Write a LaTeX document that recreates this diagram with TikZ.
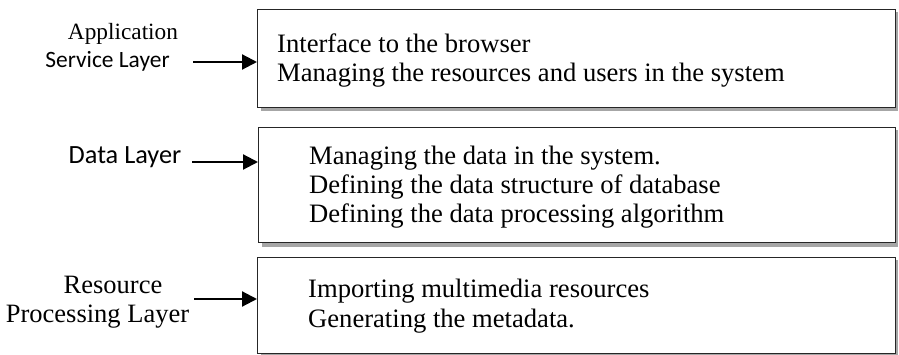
\documentclass[tikz,border=0pt]{standalone}
\usepackage{fontspec}
\setmainfont{Liberation Serif}
\newfontfamily\calib{Carlito}
\usetikzlibrary{arrows.meta}
\begin{document}
\begin{tikzpicture}[x=1pt,y=-1pt,
  layerbox/.style={draw=black!85, line width=1.1pt, fill=white, anchor=north west, inner sep=0pt, minimum width=638pt},
  shadowfill/.style={fill=black!35},
  boxtext/.style={anchor=base west, inner sep=0pt, font=\fontsize{26.6}{30}\selectfont},
  serlbl/.style={anchor=base, inner sep=0pt, font=\fontsize{26.5}{30}\selectfont},
  sanslbl/.style={anchor=base, inner sep=0pt, font=\calib\fontsize{23.4}{28}\selectfont},
  arr/.style={line width=2.2pt, -{Triangle[length=15pt,width=15pt]}}]
\useasboundingbox[fill=white] (0,0) rectangle (899,355);
% shadows
\fill[shadowfill] (261,12) rectangle (898,111);
\fill[shadowfill] (262,130) rectangle (898,247);
\fill[shadowfill] (261,260) rectangle (898,357);
% boxes
\node[layerbox, minimum height=98pt] (box1) at (257,9) {};
\node[layerbox, minimum height=115pt, minimum width=637pt] (box2) at (258,127) {};
\node[layerbox, minimum height=96pt] (box3) at (257,257) {};
% box texts
\node[boxtext] (t11) at (277,53) {Interface to the browser};
\node[boxtext] (t12) at (277,82) {Managing the resources and users in the system};
\node[boxtext] (t21) at (309,165) {Managing the data in the system.};
\node[boxtext] (t22) at (309,194) {Defining the data structure of database};
\node[boxtext] (t23) at (309,223) {Defining the data processing algorithm};
\node[boxtext] (t31) at (308,298) {Importing multimedia resources};
\node[boxtext] (t32) at (308,327) {Generating the metadata.};
% labels
\node[serlbl, font=\fontsize{23.3}{28}\selectfont] (l1a) at (123,40) {Application};
\node[sanslbl] (l1b) at (107.5,68) {Service Layer};
\node[sanslbl, font=\calib\fontsize{26.3}{30}\selectfont] (l2) at (125,164) {Data Layer};
\node[serlbl] (l3a) at (113,293) {Resource};
\node[serlbl] (l3b) at (97.5,322) {Processing Layer};
% arrows
\coordinate (a1) at (193,62);
\coordinate (a2) at (192,162);
\coordinate (a3) at (194,299);
\draw[arr] (a1) -- (a1 -| box1.west);
\draw[arr] (a2) -- (a2 -| box2.west);
\draw[arr] (a3) -- (a3 -| box3.west);
\end{tikzpicture}
\end{document}
